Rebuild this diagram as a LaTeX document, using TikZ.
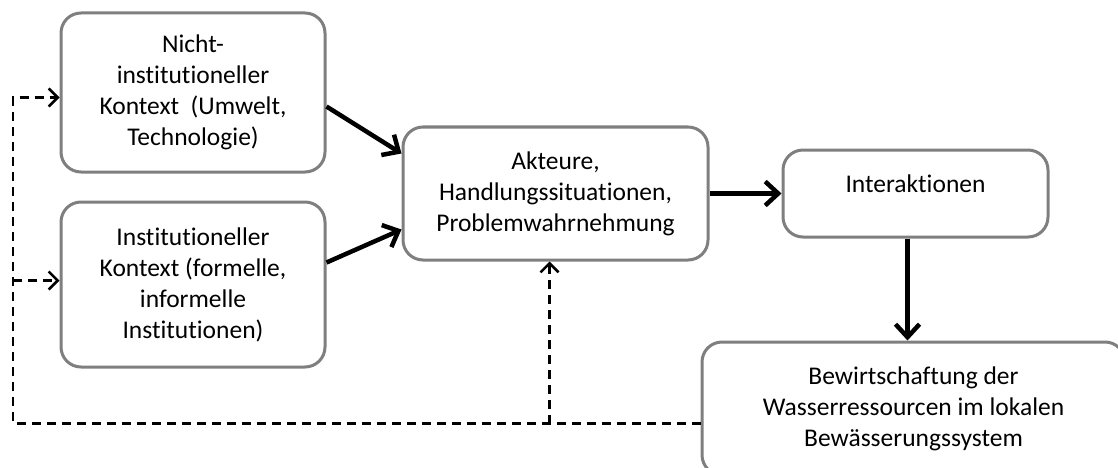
\documentclass[tikz,border=0pt]{standalone}
\usepackage{fontspec}
\setmainfont{Carlito}[Ligatures=NoCommon]
\usetikzlibrary{arrows.meta}
\usetikzlibrary{positioning}
\definecolor{boxgray}{RGB}{127,127,127}

\begin{document}
\begin{tikzpicture}[
  x=1pt, y=-1pt,
  box/.style={draw=boxgray, line width=3pt, rounded corners=20pt, fill=white,
    align=center, inner sep=0pt, font=\fontsize{25.5}{31}\selectfont},
  arr/.style={line width=4.5pt, black, -{Straight Barb[length=13pt,width=24pt]}},
  fb/.style={line width=2.5pt, black, dash pattern=on 9pt off 6pt,
    -{Straight Barb[length=9pt,width=18pt]}},
]
\useasboundingbox (0,0) rectangle (1118,468);

\node (ctx0) [box, minimum width=264pt, minimum height=159pt] at (193,92.5)
  {Nicht-\\institutioneller\\Kontext\ \ (Umwelt,\\Technologie)};
\node (ctx1) [box, minimum width=264pt, minimum height=165pt] at (193,284.5)
  {Institutioneller\\Kontext (formelle,\\informelle\\Institutionen)};
\node (act) [box, minimum width=305pt, minimum height=133pt] at (555.5,193.5)
  {Akteure,\\Handlungssituationen,\\Problemwahrnehmung};
\node (inter) [box, minimum width=265pt, minimum height=87pt] at (915.5,193.5)
  {\raisebox{20pt}{Interaktionen}};
\node (mgmt) [box, minimum width=423pt, minimum height=133pt] at (913.5,408.5)
  {Bewirtschaftung der\\Wasserressourcen im lokalen\\Bewässerungssystem};

\draw[arr] ([yshift=-14pt]ctx0.east) -- ([yshift=40pt]act.west);
\draw[arr] ([yshift=22pt]ctx1.east) -- ([yshift=-36pt]act.west);
\draw[arr] (act.east) -- (inter.west);
\draw[arr] ([xshift=-8pt]inter.south) -- ([xshift=-8pt]inter.south |- mgmt.north);

% feedback loop
\coordinate (loop) at (13,0);
\coordinate (in0) at ([yshift=-5pt]ctx0.west);
\coordinate (in1) at ([yshift=4pt]ctx1.west);
\coordinate (in2) at ([xshift=-6pt]act.south);
\coordinate (out) at ([yshift=-15pt]mgmt.west);

\draw[fb] (out) -| (in0 -| loop) -- (in0);
\draw[fb] (in1 -| loop) -- (in1);
\draw[fb] (out -| in2) -- (in2);
\end{tikzpicture}
\end{document}
